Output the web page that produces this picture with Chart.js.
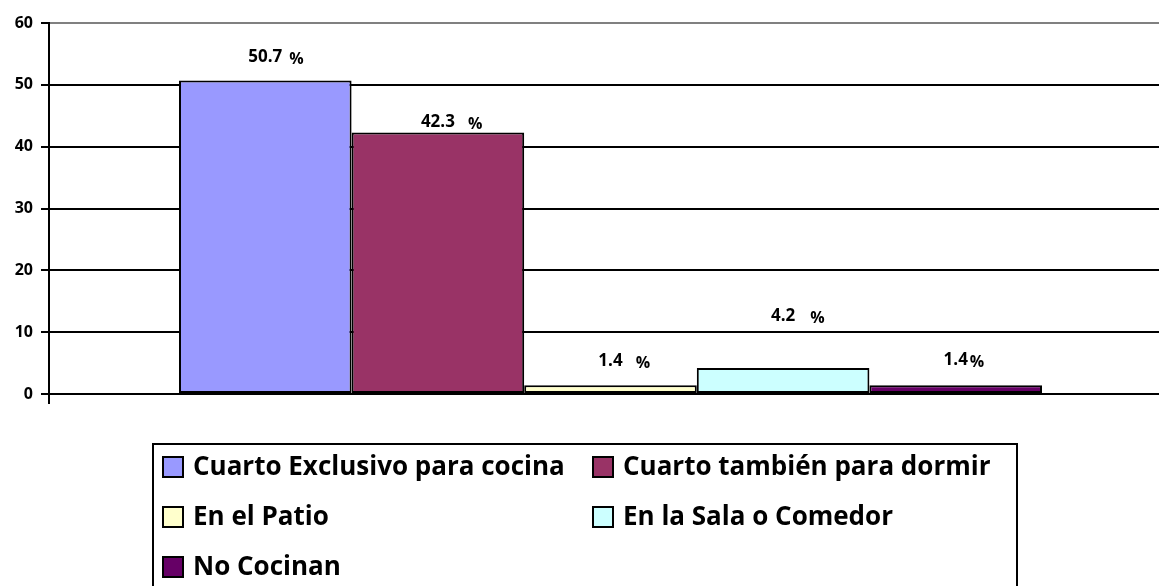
<!DOCTYPE html>
<html>
<head>
<meta charset="utf-8">
<script src="https://cdn.jsdelivr.net/npm/chart.js@4/dist/chart.umd.min.js"></script>
<style>
html,body{margin:0;padding:0;background:#fff;overflow:hidden;width:1159px;height:586px;}
canvas{display:block;}
</style>
</head>
<body>
<canvas id="c" width="1172" height="586"></canvas>
<script>
const categories = [''];
const seriesNames = ['Cuarto Exclusivo para cocina','Cuarto también para dormir','En el Patio','En la Sala o Comedor','No Cocinan'];
const seriesValues = [50.7, 42.3, 1.4, 4.2, 1.4];
const seriesColors = ['#9999FF','#993366','#FFFFCC','#CCFFFF','#660066'];
const yTicks = [0,10,20,30,40,50,60];
// label placement style (pixels above bar top, gap before %)
const labelLift = [23, 10, 24, 52, 25];
const percentGap = [7, 13, 13, 15, 2];

const FONT = '"Open Sans", sans-serif';

const labelPlugin = {
  id: 'valueLabels',
  afterDatasetsDraw(chart) {
    const ctx = chart.ctx;
    ctx.save();
    ctx.font = 'bold 17px ' + FONT;
    ctx.fillStyle = '#000';
    ctx.textBaseline = 'middle';
    chart.data.datasets.forEach((ds, i) => {
      const el = chart.getDatasetMeta(i).data[0];
      const num = ds.data[0].toFixed(1);
      const w = ctx.measureText(num).width;
      const y = el.y - labelLift[i];
      ctx.textAlign = 'center';
      ctx.fillText(num, el.x, y);
      ctx.textAlign = 'left';
      ctx.font = 'bold 16px ' + FONT;
      ctx.fillText('%', el.x + w / 2 + percentGap[i], y + 2);
      ctx.font = 'bold 17px ' + FONT;
    });
    ctx.restore();
  }
};

const legendPlugin = {
  id: 'boxLegend',
  afterDraw(chart) {
    const ctx = chart.ctx;
    ctx.save();
    ctx.lineWidth = 2;
    ctx.strokeStyle = '#000';
    ctx.strokeRect(153, 444, 864, 160);
    const colX = [163, 593];
    const rowY = [467, 517, 567];
    ctx.font = 'bold 26px ' + FONT;
    ctx.textBaseline = 'middle';
    ctx.textAlign = 'left';
    chart.data.datasets.forEach((ds, i) => {
      const x = colX[i % 2];
      const y = rowY[Math.floor(i / 2)];
      ctx.fillStyle = ds.backgroundColor;
      ctx.fillRect(x, y - 10, 20, 20);
      ctx.strokeRect(x, y - 10, 20, 20);
      ctx.fillStyle = '#000';
      ctx.fillText(ds.label, x + 30, y + 1);
    });
    ctx.restore();
  }
};

new Chart(document.getElementById('c'), {
  type: 'bar',
  data: {
    labels: categories,
    datasets: seriesNames.map((n, i) => ({
      label: n,
      data: [seriesValues[i]],
      backgroundColor: seriesColors[i],
      borderColor: '#000',
      borderWidth: 2,
      borderSkipped: false
    }))
  },
  options: {
    responsive: false,
    animation: false,
    layout: { padding: { top: 23, left: 0, right: 0, bottom: 0 } },
    plugins: { legend: { display: false }, tooltip: { enabled: false } },
    datasets: { bar: { barPercentage: 1, categoryPercentage: 0.7685 } },
    scales: {
      x: {
        grid: { offset: true, drawOnChartArea: false, drawTicks: true, tickLength: 10, color: '#000', lineWidth: 2 },
        border: { display: true, color: '#000', width: 2 },
        ticks: { display: false },
        afterFit(scale) { scale.height = 192; }
      },
      y: {
        min: 0, max: 60,
        afterBuildTicks(scale) { scale.ticks = yTicks.map(v => ({ value: v })); },
        grid: {
          color: (c) => (c.tick && c.tick.value === 60 ? '#808080' : '#000'),
          lineWidth: 2,
          tickLength: 8,
          tickColor: '#000'
        },
        border: { display: true, color: '#000', width: 2 },
        ticks: { color: '#000', font: { family: FONT, size: 16, weight: 'bold' }, padding: 8 },
        afterFit(scale) { scale.width = 49; }
      }
    }
  },
  plugins: [labelPlugin, legendPlugin]
});
</script>
</body>
</html>
